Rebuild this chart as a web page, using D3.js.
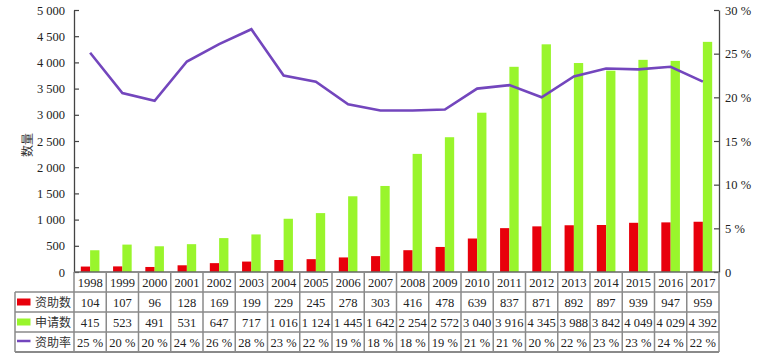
<!DOCTYPE html>
<html><head><meta charset="utf-8">
<script src="https://cdn.jsdelivr.net/npm/d3@7/dist/d3.min.js"></script>
<style>html,body{margin:0;padding:0;background:#fff;}svg{display:block;}
svg text.num{font-family:"Liberation Serif","Times New Roman",serif;}
svg text.cjk{font-family:"Noto Sans CJK SC","Noto Sans",sans-serif;}
</style>
</head><body><svg id="c" width="765" height="357"></svg>
<script>
const years = ["1998","1999","2000","2001","2002","2003","2004","2005","2006","2007","2008","2009","2010","2011","2012","2013","2014","2015","2016","2017"];
const funded = [104,107,96,128,169,199,229,245,278,303,416,478,639,837,871,892,897,939,947,959];
const applied = [415,523,491,531,647,717,1016,1124,1445,1642,2254,2572,3040,3916,4345,3988,3842,4049,4029,4392];
const rate = [25.1,20.5,19.6,24.1,26.1,27.8,22.5,21.8,19.2,18.5,18.5,18.6,21.0,21.4,20.0,22.4,23.3,23.2,23.5,21.8];
const rateLabels = ["25 %","20 %","20 %","24 %","26 %","28 %","23 %","22 %","19 %","18 %","18 %","19 %","21 %","21 %","20 %","22 %","23 %","23 %","24 %","22 %"];
const leftTicks = [0,500,1000,1500,2000,2500,3000,3500,4000,4500,5000];
const rightTicks = [0,5,10,15,20,25,30];
const seriesNames = ["资助数","申请数","资助率"];
const colors = {funded:"#e8000b", applied:"#99f52c", rate:"#7346bd"};

const svg = d3.select("#c");
const L = 74, R = 719, T = 10, B = 272;
const loc = d3.formatLocale({decimal:".", thousands:" ", grouping:[3], currency:["",""]});
const fmt = loc.format(",d");

const x = d3.scaleBand().domain(years).range([L, R]).padding(0);
const y = d3.scaleLinear().domain([0,5000]).range([B, T]);
const yr = d3.scaleLinear().domain([0,30]).range([B, T]);
const bw = 9.3;

// bars
svg.append("g").selectAll("rect").data(years).join("rect")
  .attr("x", (d)=>x(d)+x.bandwidth()/2-bw).attr("width", bw)
  .attr("y", (d,i)=>y(funded[i])).attr("height", (d,i)=>B-y(funded[i]))
  .attr("fill", colors.funded);
svg.append("g").selectAll("rect").data(years).join("rect")
  .attr("x", (d)=>x(d)+x.bandwidth()/2).attr("width", bw)
  .attr("y", (d,i)=>y(applied[i])).attr("height", (d,i)=>B-y(applied[i]))
  .attr("fill", colors.applied);

// line
const line = d3.line().x((d,i)=>x(years[i])+x.bandwidth()/2).y(d=>yr(d));
svg.append("path").datum(rate).attr("d", line).attr("fill","none")
  .attr("stroke", colors.rate).attr("stroke-width", 2.6);

// left axis
const gl = svg.append("g").attr("transform",`translate(${L},0)`)
  .call(d3.axisLeft(y).tickValues(leftTicks).tickFormat(d=>fmt(d)).tickSizeInner(-5).tickSizeOuter(0).tickPadding(9));
gl.attr("font-family", null);
gl.select(".domain").attr("stroke","#444").attr("stroke-width",1.3);
gl.selectAll(".tick line").attr("stroke","#444").attr("stroke-width",1.2);
gl.selectAll("text").attr("class","num").attr("font-size",12.5).attr("fill","#222");

// right axis
const gr = svg.append("g").attr("transform",`translate(${R},0)`)
  .call(d3.axisRight(yr).tickValues(rightTicks).tickFormat(d=>d===0?"0":d+" %").tickSizeInner(-5).tickSizeOuter(0).tickPadding(6));
gr.attr("font-family", null);
gr.select(".domain").attr("stroke","#444").attr("stroke-width",1.3);
gr.selectAll(".tick line").attr("stroke","#444").attr("stroke-width",1.2);
gr.selectAll("text").attr("class","num").attr("font-size",12.5).attr("fill","#222");

// y label
svg.append("text").attr("class","cjk").attr("transform","translate(32,145) rotate(-90)")
  .attr("text-anchor","middle").attr("font-size",12).attr("fill","#333").text("数量");

// table
const rowH = 20, tTop = B, tLeft = 15;
const g = svg.append("g");
const gridColor = "#8a8a8a";
[0,1,2,3,4].forEach(r=>{
  const yy = tTop + r*rowH;
  g.append("line").attr("x1", r===0? L : tLeft).attr("x2", R).attr("y1", yy).attr("y2", yy)
   .attr("stroke", r===0 ? "#666" : gridColor).attr("stroke-width", r===4 ? 2 : 1.5);
});
g.append("line").attr("x1",tLeft).attr("x2",tLeft).attr("y1",tTop+rowH).attr("y2",tTop+4*rowH).attr("stroke",gridColor).attr("stroke-width",1.5);
years.forEach(yv=>{
  g.append("line").attr("x1",x(yv)).attr("x2",x(yv)).attr("y1",tTop).attr("y2",tTop+4*rowH).attr("stroke",gridColor).attr("stroke-width",1.5);
});
g.append("line").attr("x1",R).attr("x2",R).attr("y1",tTop).attr("y2",tTop+4*rowH).attr("stroke",gridColor).attr("stroke-width",1.5);

const rows = [years, funded.map(fmt), applied.map(fmt), rateLabels];
rows.forEach((vals, r)=>{
  g.append("g").selectAll("text").data(vals).join("text").attr("class","num")
   .attr("x",(d,i)=>x(years[i])+x.bandwidth()/2)
   .attr("y", tTop + r*rowH + rowH/2 + 4.5)
   .attr("text-anchor","middle").attr("font-size",12.5).attr("fill","#222")
   .text(d=>d);
});
const hdrColors = [colors.funded, colors.applied, colors.rate];
seriesNames.forEach((n, k)=>{
  const cy = tTop + (k+1)*rowH + rowH/2;
  if (k<2) g.append("rect").attr("x",17).attr("y",cy-3.5).attr("width",13.5).attr("height",7).attr("fill",hdrColors[k]);
  else g.append("line").attr("x1",17).attr("x2",30.5).attr("y1",cy-1).attr("y2",cy-1).attr("stroke",hdrColors[k]).attr("stroke-width",2.5);
  g.append("text").attr("class","cjk").attr("x",35).attr("y",cy+4.5).attr("font-size",12).attr("fill","#333").text(n);
});
</script></body></html>
